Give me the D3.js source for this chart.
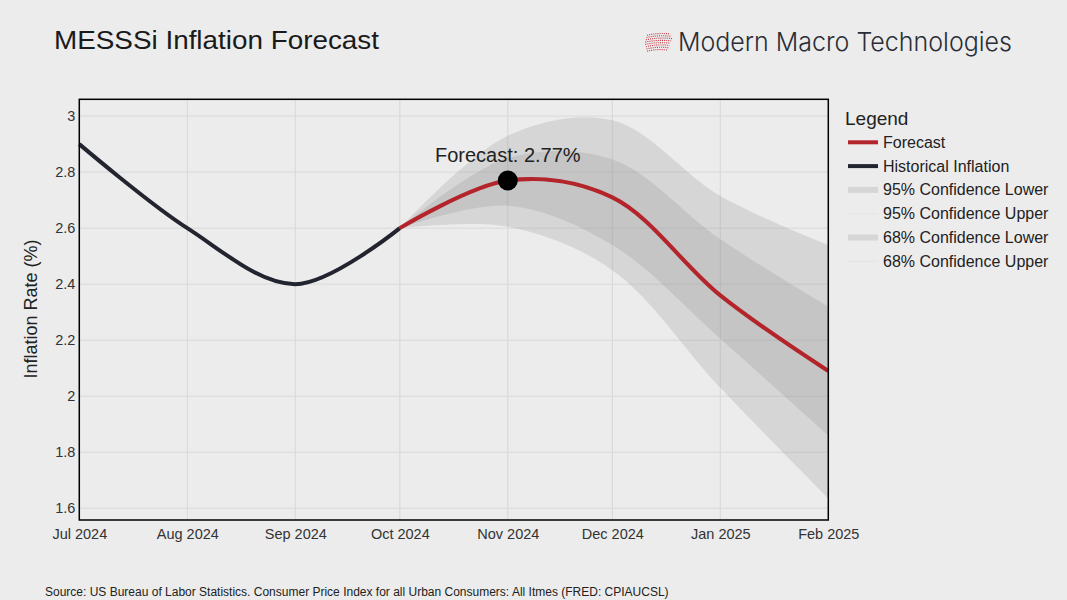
<!DOCTYPE html>
<html><head><meta charset="utf-8">
<script src="https://cdn.jsdelivr.net/npm/d3@7"></script>
<style>
body{margin:0;background:#ececec;}
svg{display:block;font-family:"Liberation Sans",Arial,sans-serif;}
</style>
</head><body><svg id="c" width="1067" height="600"></svg>
<script>
// ---- data ----
const histDates = ["2024-07-01","2024-08-01","2024-09-01","2024-10-01"];
const histValues = [2.9, 2.6, 2.4, 2.6];
const fcDates = ["2024-10-01","2024-11-01","2024-12-01","2025-01-01","2025-02-01"];
const fcValues = [2.6, 2.77, 2.71, 2.36, 2.09];
const ci95Lower = [2.6, 2.605, 2.45, 2.03, 1.635];
const ci95Upper = [2.6, 2.93, 2.985, 2.715, 2.54];
const ci68Lower = [2.6, 2.68, 2.54, 2.205, 1.86];
const ci68Upper = [2.6, 2.85, 2.845, 2.56, 2.32];
const xTickDates = ["2024-07-01","2024-08-01","2024-09-01","2024-10-01","2024-11-01","2024-12-01","2025-01-01","2025-02-01"];
const yTicks = [1.6, 1.8, 2, 2.2, 2.4, 2.6, 2.8, 3];
const legendLabels = ["Forecast","Historical Inflation","95% Confidence Lower","95% Confidence Upper","68% Confidence Lower","68% Confidence Upper"];
const highlight = {date: "2024-11-01", value: 2.77, label: "Forecast: 2.77%"};

// ---- setup ----
const parse = d3.timeParse("%Y-%m-%d");
const svg = d3.select("#c");
const L = 79.3, R = 828.3, T = 99.3, B = 520;
const x = d3.scaleTime().domain([parse("2024-07-01"), parse("2025-02-01")]).range([L, R]);
const y = d3.scaleLinear().domain([1.558, 3.06]).range([B, T]);

svg.append("rect").attr("width",1067).attr("height",600).attr("fill","#ececec");

// grid
const g = svg.append("g");
g.selectAll(".gx").data(xTickDates).join("line")
  .attr("x1", d=>x(parse(d))).attr("x2", d=>x(parse(d)))
  .attr("y1", T).attr("y2", B).attr("stroke","#d8d8d8").attr("stroke-width",1);
g.selectAll(".gy").data(yTicks).join("line")
  .attr("x1", L).attr("x2", R)
  .attr("y1", d=>y(d)).attr("y2", d=>y(d)).attr("stroke","#d8d8d8").attr("stroke-width",1);

// bands
const fc = fcDates.map((d,i)=>({d:parse(d), v:fcValues[i], l95:ci95Lower[i], u95:ci95Upper[i], l68:ci68Lower[i], u68:ci68Upper[i]}));
const curve = d3.curveCatmullRom.alpha(0.5);
const area95 = d3.area().x(d=>x(d.d)).y0(d=>y(d.l95)).y1(d=>y(d.u95)).curve(curve);
const area68 = d3.area().x(d=>x(d.d)).y0(d=>y(d.l68)).y1(d=>y(d.u68)).curve(curve);
svg.append("path").datum(fc).attr("d", area95).attr("fill","rgba(128,128,128,0.2)");
svg.append("path").datum(fc).attr("d", area68).attr("fill","rgba(128,128,128,0.2)");

// lines
const hist = histDates.map((d,i)=>({d:parse(d), v:histValues[i]}));
const line = d3.line().x(d=>x(d.d)).y(d=>y(d.v)).curve(curve);
svg.append("path").datum(hist).attr("d", line).attr("fill","none")
  .attr("stroke","#22252f").attr("stroke-width",4).attr("stroke-linejoin","round");
svg.append("path").datum(fc).attr("d", line).attr("fill","none")
  .attr("stroke","#b3242b").attr("stroke-width",4).attr("stroke-linejoin","round");

// highlight
svg.append("circle").attr("cx", x(parse(highlight.date))).attr("cy", y(highlight.value))
  .attr("r", 10).attr("fill","#000");
svg.append("text").attr("x", x(parse(highlight.date))).attr("y", y(highlight.value)-18.5)
  .attr("text-anchor","middle").attr("font-size",20).attr("fill","#222").text(highlight.label);

// border
svg.append("rect").attr("x",L).attr("y",T).attr("width",R-L).attr("height",B-T)
  .attr("fill","none").attr("stroke","#000").attr("stroke-width",1.5);

// axes
const xAxis = d3.axisBottom(x).tickValues(xTickDates.map(parse)).tickFormat(d3.timeFormat("%b %Y")).tickSize(0).tickPadding(9);
const xa = svg.append("g").attr("transform",`translate(0,${B})`).call(xAxis);
xa.select(".domain").remove();
xa.selectAll("text").attr("font-size",14.5).attr("fill","#333").attr("font-family","'Liberation Sans',Arial,sans-serif");

const yAxis = d3.axisLeft(y).tickValues(yTicks).tickFormat(d3.format(".1~f")).tickSize(0).tickPadding(4);
const ya = svg.append("g").attr("transform",`translate(${L},0)`).call(yAxis);
ya.select(".domain").remove();
ya.selectAll("text").attr("font-size",14.5).attr("fill","#333").attr("font-family","'Liberation Sans',Arial,sans-serif");

svg.append("text").attr("transform","translate(37,309) rotate(-90)").attr("text-anchor","middle")
  .attr("font-size",18).attr("fill","#222").text("Inflation Rate (%)");

// title
svg.append("text").attr("x",54).attr("y",48.5).attr("font-size",25).attr("fill","#1a1a1a")
  .attr("textLength",325).attr("lengthAdjust","spacingAndGlyphs").text("MESSSi Inflation Forecast");

// logo
const logo = svg.append("g");
d3.range(8).forEach(i=>{
  const yy = 34 + i*2.3;
  const x0 = 645 + Math.abs(i-3.5)*0.6;
  const x1 = 672 - Math.abs(i-2)*0.9;
  logo.append("path")
    .attr("d", `M${x0},${yy+1.2} Q${(x0+x1)/2},${yy-1.5} ${x1},${yy}`)
    .attr("fill","none").attr("stroke","#c7333c").attr("stroke-width",1.1)
    .attr("stroke-dasharray","1,1.1");
});
svg.append("text").attr("x",678).attr("y",51).attr("font-family","Inter, Lato, sans-serif")
  .attr("font-weight",300)
  .attr("font-size",26).attr("fill","#2a2d38").attr("textLength",334).attr("lengthAdjust","spacingAndGlyphs")
  .text("Modern Macro Technologies");

// legend
svg.append("text").attr("x",845).attr("y",125).attr("font-size",19).attr("fill","#222").text("Legend");
const legStyles = [
  {c:"#b3242b", w:4},{c:"#22252f", w:4},{c:"#d6d6d6", w:6},{c:"#e4e4e4", w:1},{c:"#d6d6d6", w:6},{c:"#e4e4e4", w:1}
];
const lg = svg.append("g");
legendLabels.forEach((t,i)=>{
  const yy = 142.3 + i*23.8;
  lg.append("line").attr("x1",848).attr("x2",878).attr("y1",yy).attr("y2",yy)
    .attr("stroke",legStyles[i].c).attr("stroke-width",legStyles[i].w);
  lg.append("text").attr("x",883).attr("y",yy+5.5).attr("font-size",16).attr("fill","#222").text(t);
});

// source
svg.append("text").attr("x",45).attr("y",596).attr("font-size",12).attr("fill","#222")
  .text("Source: US Bureau of Labor Statistics. Consumer Price Index for all Urban Consumers: All Itmes (FRED: CPIAUCSL)");
</script>
</body></html>
